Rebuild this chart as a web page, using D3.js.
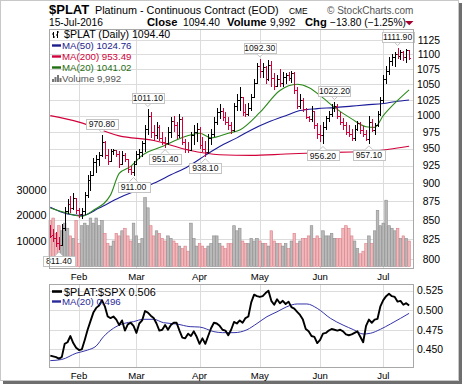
<!DOCTYPE html>
<html lang="en">
<head>
<meta charset="utf-8">
<title>$PLAT Platinum</title>
<script src="https://d3js.org/d3.v7.min.js"></script>
<style>
body { margin: 0; background: #fff; }
text { font-family: "Liberation Sans", Arial, sans-serif; }
</style>
</head>
<body>
<div id="chart"></div>
<script>

// ---- data ----
var startDay = "2016-01-15", endDay = "2016-07-15";
var holidays = ["2016-01-18", "2016-02-15", "2016-03-25", "2016-05-30", "2016-07-04"];

var open = [840,830,826,820,818,840,862,872,866,880,864,858,862,884,905,912,930,935,940,960,
  940,932,946,948,942,928,940,935,920,916,928,942,945,958,980,1000,975,970,982,966,
  960,958,975,992,985,970,995,960,950,948,970,975,980,955,950,945,966,972,990,1005,
  1008,998,990,985,978,1015,1025,1030,1005,1002,1012,1030,1052,1080,1072,1078,1058,1082,1060,1048,
  1058,1052,1062,1065,1060,1068,1040,1015,1025,1010,998,995,1008,985,972,970,982,996,1002,1012,
  1015,1000,990,985,975,972,966,980,988,978,972,965,990,978,985,1002,1025,1058,1072,1088,
  1095,1100,1098,1104,1095,1108];
var high = [844,838,834,828,845,868,878,882,886,880,866,866,888,912,918,936,940,945,970.8,962,
  950,950,950,948,946,946,944,935,925,932,946,950,962,985,1011.1,1005,985,990,985,975,
  968,982,998,1000,990,1002,998,965,960,975,985,988,982,968,962,972,980,998,1012,1018,
  1012,1005,998,990,1020,1035,1045,1030,1018,1020,1035,1058,1085,1092.3,1085,1080,1090,1088,1068,1065,
  1075,1070,1068,1070,1072,1070,1045,1035,1028,1012,1000,1015,1008,988,985,990,1000,1008,1018,1022.2,
  1018,1005,996,990,985,980,985,992,990,984,978,1000,995,988,1008,1030,1065,1080,1095,1100,
  1105,1111.9,1108,1106,1110,1108];
var low = [826,822,815,811.4,816,836,858,860,864,858,853,852,857,880,890,910,915,925,938,935,
  926,930,940,938,922,926,930,915,912,911,926,935,938,945,970,966,962,965,962,955,
  951.4,955,966,975,965,966,955,944,944,946,955,960,950,945,938.1,942,955,968,985,995,
  992,985,978,972,975,1008,1008,1000,998,1000,1008,1028,1050,1060,1060,1050,1056,1045,1040,1045,
  1045,1045,1050,1055,1052,1035,1010,1010,1005,995,990,990,980,965,960,956.2,978,990,998,1005,
  995,985,978,970,968,962,962,976,972,968,962,957.1,975,970,982,1000,1020,1050,1065,1080,
  1078,1092,1090,1088,1085,1090];
var close = [829,826,820,817,840,862,872,866,880,864,858,862,884,905,912,930,935,940,960,940,
  932,946,948,942,928,940,935,920,916,928,942,945,958,980,1000,975,970,982,966,960,
  958,975,992,985,970,995,960,950,948,970,975,980,955,950,945,966,972,990,1005,1008,
  998,990,985,978,1015,1025,1030,1005,1002,1012,1030,1052,1080,1072,1078,1058,1082,1060,1048,1058,
  1052,1062,1065,1060,1068,1040,1015,1025,1010,998,995,1008,985,972,970,982,996,1002,1012,1015,
  1000,990,985,975,972,966,980,988,978,972,965,990,978,985,1002,1025,1058,1072,1088,1095,
  1100,1098,1104,1095,1108.2,1094.4];
var volume = [18000,19000,13000,16000,14000,17000,15000,12000,11000,18000,9000,16000,17000,16000,19000,17000,19000,16000,18000,13000,
  9000,8000,10000,13000,12000,14000,15000,12000,10000,17000,12000,9000,11000,27000,23000,16000,12000,14000,13000,11000,
  10000,12000,11000,10000,9000,8000,7000,8000,6000,17000,11000,8000,9000,8000,7000,8000,9000,12000,12000,9000,
  8000,7000,9000,9000,16000,14000,15000,10000,9000,9000,11000,10000,11000,10000,9000,9000,8000,14000,10000,9000,
  9000,8000,9000,7000,10000,13000,9000,10000,11000,11000,12000,16000,11000,12000,11000,14000,12000,12000,13000,11000,
  11000,11000,15000,16000,15000,12000,10000,7000,5000,6000,9000,12000,9000,14000,22000,16000,17000,26000,16000,15000,
  14000,15000,11000,12000,11000,9992];

// moving averages, read at [bar index, value]
var ma50 = [[0,867],[6,858],[11,856],[17,866],[24,880],[30,890],[36,900],[42,912],[48,924],[54,940],[59,953],
  [65,966],[70,978],[76,990],[82,1000],[87,1008],[93,1011],[99,1012.6],[105,1015],[110,1017],[116,1019],[120,1022],[125,1024.76]];
var ma200 = [[0,1000],[10,990],[24,969],[36,962],[48,948],[59,941],[70,940],[82,942],[94,944],[105,945],[112,946],[118,949],[125,953.49]];
var ma20 = [[0,866],[6,859],[11,855],[15,863],[21,884],[24,914],[28,924],[32,940],[39,953],[47,968],[52,973],[56,966],
  [62,973],[66,978],[73,1005],[80,1040],[86,1050],[90,1045],[95,1028],[99,1013],[105,995],[110,983],[113,982],[116,1000],[121,1024],[125,1041.02]];

// $PLAT:$SPX ratio, one value per bar
var ratio = [0.442,0.441,0.440,0.438,0.440,0.457,0.459,0.467,0.458,0.452,0.449,0.450,0.462,0.475,0.486,0.497,0.503,0.506,0.513,0.505,
  0.492,0.490,0.492,0.488,0.481,0.487,0.474,0.482,0.484,0.480,0.471,0.483,0.487,0.499,0.497,0.493,0.490,0.483,0.474,0.475,
  0.481,0.475,0.481,0.484,0.484,0.474,0.465,0.464,0.470,0.467,0.473,0.466,0.457,0.464,0.457,0.467,0.477,0.484,0.483,0.480,
  0.475,0.474,0.468,0.475,0.485,0.483,0.487,0.484,0.490,0.492,0.510,0.520,0.518,0.517,0.518,0.522,0.525,0.512,0.507,0.514,
  0.509,0.512,0.508,0.511,0.504,0.502,0.498,0.494,0.488,0.476,0.473,0.467,0.466,0.458,0.462,0.470,0.471,0.474,0.476,0.475,
  0.474,0.475,0.473,0.469,0.468,0.469,0.471,0.473,0.466,0.459,0.480,0.488,0.484,0.488,0.489,0.505,0.513,0.518,0.521,0.518,
  0.517,0.511,0.512,0.507,0.509,0.506];
var ratioMa = [[0,0.4355],[4,0.437],[9,0.445],[13,0.449],[16,0.4543],[18.5,0.466],[22,0.4769],[25.5,0.483],[29,0.4854],[32.4,0.4884],
  [36,0.4884],[39.4,0.4841],[44,0.4824],[48.7,0.479],[52,0.4785],[57,0.4726],[60,0.4713],[64,0.4713],[68.5,0.475],[72,0.483],
  [75.5,0.4918],[79,0.498],[82.4,0.5045],[86,0.508],[89.4,0.508],[93,0.5024],[97.6,0.4896],[102,0.481],[105.7,0.475],[109,0.4696],
  [111.5,0.4705],[115,0.4756],[118.5,0.4824],[122,0.4896],[125,0.496]];

var priceTicks = [800,825,850,875,900,925,950,975,1000,1025,1050,1075,1100,1125];
var volTicks = [10000,20000,30000];
var ratioTicks = [0.450,0.475,0.500,0.525];
var highMarks = [18,34,73,99,121];
var lowMarks = [3,29,40,54,95,111];

// ---- trading days ----
var parse = d3.timeParse("%Y-%m-%d"), fmtDay = d3.timeFormat("%Y-%m-%d");
var dates = d3.timeDay.range(parse(startDay), d3.timeDay.offset(parse(endDay), 1))
  .filter(function(d){ return d.getDay() > 0 && d.getDay() < 6 && holidays.indexOf(fmtDay(d)) < 0; });
var monthStarts = [];
dates.forEach(function(d, i){ if (i > 0 && d.getMonth() != dates[i-1].getMonth()) monthStarts.push(i); });

var W = 464, H = 387;
var svg = d3.select("#chart").append("svg").attr("width", W).attr("height", H);

// frame with shadow
svg.append("rect").attr("x", 3).attr("y", 3).attr("width", 459).attr("height", 381).attr("fill", "#6e6e6e");
svg.append("rect").attr("x", 0.5).attr("y", 0.5).attr("width", 458).attr("height", 380)
  .attr("fill", "#fff").attr("stroke", "#c8c8c8");

var main = {x0: 49, x1: 413, y0: 29, y1: 268};
var low2 = {x0: 49, x1: 413, y0: 284, y1: 367};

var x = d3.scaleLinear().domain([0, dates.length - 1]).range([50.3, 409.1]);
var y = d3.scaleLog().domain([800, 1125]).range([259, 40]);
var yv = d3.scaleLinear().domain([0, 30000]).range([266.5, 190]);
var yr = d3.scaleLinear().domain([0.450, 0.525]).range([349.3, 290.7]);

function px(v){ return Math.round(v) + 0.5; }

// ---- grids ----
var grid = svg.append("g").attr("stroke", "#dcdcdc").attr("stroke-width", 1);
priceTicks.forEach(function(t){
  grid.append("line").attr("x1", main.x0).attr("x2", main.x1).attr("y1", px(y(t))).attr("y2", px(y(t)));
});
ratioTicks.forEach(function(t){
  grid.append("line").attr("x1", low2.x0).attr("x2", low2.x1).attr("y1", px(yr(t))).attr("y2", px(yr(t)));
});
monthStarts.forEach(function(i){
  grid.append("line").attr("x1", px(x(i))).attr("x2", px(x(i))).attr("y1", main.y0).attr("y2", main.y1);
  grid.append("line").attr("x1", px(x(i))).attr("x2", px(x(i))).attr("y1", low2.y0).attr("y2", low2.y1);
});

// ---- volume ----
var isDown = close.map(function(c, i){ return c < (i ? close[i-1] : open[i]); });
svg.append("g").selectAll("rect").data(volume).enter().append("rect")
  .attr("x", function(d, i){ return x(i) - 1.3; })
  .attr("width", 2.6)
  .attr("y", function(d){ return yv(d); })
  .attr("height", function(d){ return yv(0) - yv(d); })
  .attr("fill", function(d, i){ return isDown[i] ? "#f1b7bb" : "#b9b9b9"; })
  .attr("stroke", function(d, i){ return isDown[i] ? "#d98089" : "#8e8e8e"; })
  .attr("stroke-width", 0.6);

// ---- moving averages ----
var maLine = d3.line().x(function(d){ return x(d[0]); }).y(function(d){ return y(d[1]); }).curve(d3.curveMonotoneX);
svg.append("path").attr("d", maLine(ma200)).attr("fill", "none").attr("stroke", "#d2003a").attr("stroke-width", 1.1);
svg.append("path").attr("d", maLine(ma50)).attr("fill", "none").attr("stroke", "#1c1c9a").attr("stroke-width", 1.1);
svg.append("path").attr("d", maLine(ma20)).attr("fill", "none").attr("stroke", "#2a8a1a").attr("stroke-width", 1.1);

// ---- OHLC bars ----
var bars = svg.append("g").attr("stroke-width", 1).attr("shape-rendering", "crispEdges");
close.forEach(function(c, i){
  var col = isDown[i] ? "#d0003a" : "#000";
  var xc = px(x(i));
  bars.append("line").attr("x1", xc).attr("x2", xc).attr("y1", y(high[i])).attr("y2", y(low[i])).attr("stroke", col);
  bars.append("line").attr("x1", xc - 1.5).attr("x2", xc).attr("y1", px(y(open[i]))).attr("y2", px(y(open[i]))).attr("stroke", col);
  bars.append("line").attr("x1", xc).attr("x2", xc + 1.5).attr("y1", px(y(c))).attr("y2", px(y(c))).attr("stroke", col);
});

// ---- high / low call-outs ----
var fmt2 = d3.format(".2f");
function callout(i, v, isHigh){
  var cx = x(i), bw = 32, bh = 10;
  var by = isHigh ? y(v) - 6 - bh : y(v) + 6;
  var g = svg.append("g");
  var tipY = isHigh ? by + bh : by;
  g.append("path")
    .attr("d", "M" + (cx - 4) + "," + tipY + "L" + cx + "," + (isHigh ? tipY + 4 : tipY - 4) + "L" + (cx + 4) + "," + tipY)
    .attr("fill", "#fff").attr("stroke", "#c4c4c4");
  g.append("rect").attr("x", px(cx - bw / 2)).attr("y", px(by)).attr("width", bw).attr("height", bh)
    .attr("fill", "#fff").attr("stroke", "#c4c4c4");
  g.append("text").attr("x", cx).attr("y", by + 8.2).attr("text-anchor", "middle")
    .attr("font-size", "8.6px").attr("fill", "#111").text(fmt2(v));
}
highMarks.forEach(function(i){ callout(i, high[i], true); });
lowMarks.forEach(function(i){ callout(i, low[i], false); });

// ---- lower panel ----
var rLine = d3.line().x(function(d, i){ return x(i); }).y(function(d){ return yr(d); });
var rMaLine = d3.line().x(function(d){ return x(d[0]); }).y(function(d){ return yr(d[1]); }).curve(d3.curveMonotoneX);
svg.append("path").attr("d", rMaLine(ratioMa)).attr("fill", "none").attr("stroke", "#3434aa").attr("stroke-width", 1);
svg.append("path").attr("d", rLine(ratio)).attr("fill", "none").attr("stroke", "#000").attr("stroke-width", 1.9)
  .attr("stroke-linejoin", "round");

// ---- panel borders ----
[main, low2].forEach(function(p){
  svg.append("rect").attr("x", p.x0 + 0.5).attr("y", p.y0 + 0.5).attr("width", p.x1 - p.x0).attr("height", p.y1 - p.y0)
    .attr("fill", "none").attr("stroke", "#a8a8a8");
});

// ---- axes labels ----
var ax = svg.append("g").attr("font-size", "10.4px").attr("fill", "#000");
priceTicks.forEach(function(t){
  ax.append("text").attr("x", 440).attr("y", y(t)).attr("dy", "0.36em").attr("text-anchor", "end").text(t);
});
volTicks.forEach(function(t){
  ax.append("text").attr("x", 46.5).attr("y", yv(t)).attr("dy", "0.36em").attr("text-anchor", "end")
    .attr("font-size", "10.8px").text(t);
});
ratioTicks.forEach(function(t){
  ax.append("text").attr("x", 443).attr("y", yr(t)).attr("dy", "0.36em").attr("text-anchor", "end").text(d3.format(".3f")(t));
});
var fmtMon = d3.timeFormat("%b");
monthStarts.forEach(function(i){
  ax.append("text").attr("x", x(i)).attr("y", 279.5).attr("text-anchor", "middle").attr("font-size", "9.6px").text(fmtMon(dates[i]));
  ax.append("text").attr("x", x(i)).attr("y", 378.5).attr("text-anchor", "middle").attr("font-size", "9.6px").text(fmtMon(dates[i]));
});

// ---- header ----
var last = close.length - 1;
var chg = close[last] - close[last - 1];
svg.append("text").attr("x", 49).attr("y", 14).attr("font-size", "13px").attr("font-weight", "bold").text("$PLAT");
svg.append("text").attr("x", 95).attr("y", 14).attr("font-size", "10.8px").text("Platinum - Continuous Contract (EOD)");
svg.append("text").attr("x", 289).attr("y", 14).attr("font-size", "8.4px").text("CME");
svg.append("text").attr("x", 327).attr("y", 14).attr("font-size", "10px").attr("fill", "#555").text("\u00a9 StockCharts.com");
svg.append("text").attr("x", 49).attr("y", 26).attr("font-size", "10.2px").text("15-Jul-2016");
svg.append("text").attr("x", 147).attr("y", 26).attr("font-size", "11.2px").attr("font-weight", "bold").text("Close");
svg.append("text").attr("x", 183).attr("y", 26).attr("font-size", "10.2px").text(fmt2(close[last]));
svg.append("text").attr("x", 227).attr("y", 26).attr("font-size", "11.2px").attr("font-weight", "bold").text("Volume");
svg.append("text").attr("x", 270).attr("y", 26).attr("font-size", "10.2px").text(d3.format(",")(volume[last]));
svg.append("text").attr("x", 305).attr("y", 26).attr("font-size", "11.2px").attr("font-weight", "bold").text("Chg");
svg.append("text").attr("x", 330).attr("y", 26).attr("font-size", "10.2px")
  .text(fmt2(chg) + " (" + fmt2(chg / close[last - 1] * 100) + "%)");
svg.append("path").attr("d", "M405,21L413.5,21L409.25,25.3Z").attr("fill", "#a0002a");

// ---- legends ----
var lg = svg.append("g");
// OHLC icon
lg.append("path").attr("d", "M53.5,32v6M52,34h1.5M53.5,37h1.5M57.5,31v7M56,35h1.5M57.5,32h1.5")
  .attr("stroke", "#000").attr("fill", "none").attr("stroke-width", 1);
lg.append("text").attr("x", 64).attr("y", 38).attr("font-family", "DejaVu Sans").attr("font-size", "10.6px")
  .text("$PLAT (Daily) " + fmt2(close[last]));
var maRows = [
  {txt: "MA(50) " + fmt2(ma50[ma50.length - 1][1]), col: "#1c1c8c", yb: 49},
  {txt: "MA(200) " + fmt2(ma200[ma200.length - 1][1]), col: "#d0003a", yb: 60},
  {txt: "MA(20) " + fmt2(ma20[ma20.length - 1][1]), col: "#1f6e12", yb: 71}
];
maRows.forEach(function(r){
  lg.append("line").attr("x1", 52).attr("x2", 61).attr("y1", r.yb - 3.5).attr("y2", r.yb - 3.5)
    .attr("stroke", r.col).attr("stroke-width", 2.4);
  lg.append("text").attr("x", 62).attr("y", r.yb).attr("font-size", "9.7px").attr("fill", r.col).text(r.txt);
});
[[52,3],[54.5,5],[57,7],[59.5,4]].forEach(function(b){
  lg.append("rect").attr("x", b[0]).attr("y", 82 - b[1]).attr("width", 2).attr("height", b[1]).attr("fill", "#777");
});
lg.append("text").attr("x", 62).attr("y", 82).attr("font-size", "9.7px").attr("fill", "#555")
  .text("Volume " + d3.format(",")(volume[last]));

lg.append("line").attr("x1", 52).attr("x2", 62).attr("y1", 291.5).attr("y2", 291.5).attr("stroke", "#000").attr("stroke-width", 2.6);
lg.append("text").attr("x", 64).attr("y", 295.5).attr("font-family", "DejaVu Sans").attr("font-size", "10.8px")
  .text("$PLAT:$SPX " + d3.format(".3f")(ratio[ratio.length - 1]));
lg.append("line").attr("x1", 52).attr("x2", 61).attr("y1", 301.5).attr("y2", 301.5).attr("stroke", "#2a2a9a").attr("stroke-width", 2.4);
lg.append("text").attr("x", 62).attr("y", 305).attr("font-size", "9.7px").attr("fill", "#2a2a9a")
  .text("MA(20) " + d3.format(".3f")(ratioMa[ratioMa.length - 1][1]));

</script>
</body>
</html>
